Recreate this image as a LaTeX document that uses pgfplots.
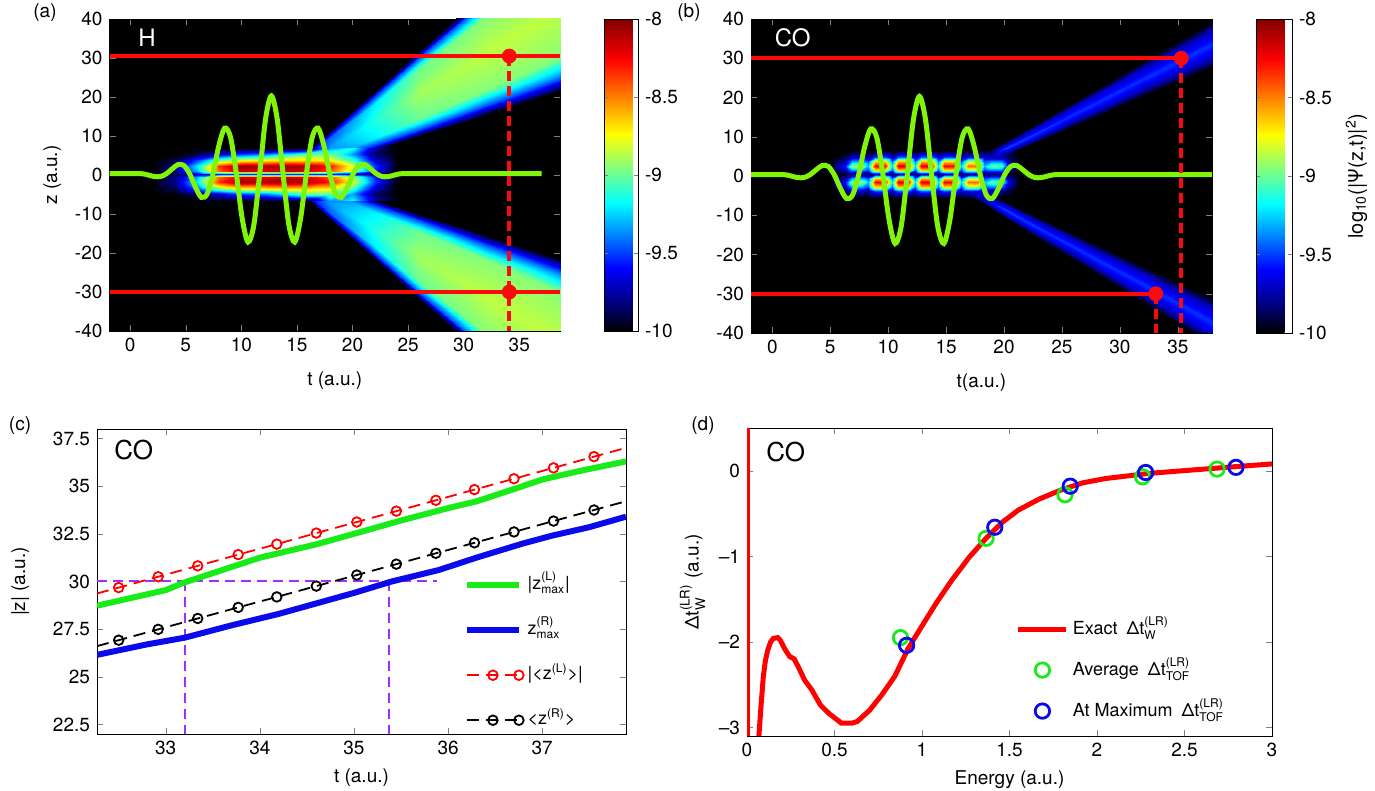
\documentclass[border=0pt]{standalone}
\usepackage{pgfplots}
\pgfplotsset{compat=1.18}
\usepackage{pgfplotstable}
\usepackage{amsmath}
\usepackage{fontspec}
\setmainfont{TeX Gyre Heros}

\definecolor{wavegreen}{RGB}{128,245,10}
\definecolor{cgreen}{RGB}{25,235,25}
\definecolor{cblue}{RGB}{10,10,235}
\definecolor{cpurple}{RGB}{155,48,255}
\definecolor{dred}{RGB}{250,10,10}

\newcommand{\fs}{\fontsize{9.5}{11}\selectfont}
\newcommand{\fl}{\fontsize{9}{11}\selectfont}

\pgfplotsset{
  colormap={blackjet}{rgb(0pt)=(0,0,0); rgb(10pt)=(0,0,0.55); rgb(20pt)=(0,0,1);
    rgb(41pt)=(0,1,1); rgb(52pt)=(0.5,1,0.5); rgb(63pt)=(1,1,0); rgb(87pt)=(1,0,0); rgb(100pt)=(0.5,0,0)},
  panel/.style={
    scale only axis, anchor=south west,
    tick label style={font=\fs},
    label style={font=\fs},
    /pgf/number format/assume math mode=true,
    tick align=inside, major tick length=3pt,
  },
  heat/.style={
    panel,
    axis background/.style={fill=black},
    colormap name=blackjet, point meta min=-10, point meta max=-8,
    ymin=-40, ymax=40, ytick={-40,-30,...,40}, xtick={0,5,...,35},
    colorbar,
  },
  cbar/.style={
    at={(parent axis.north east)}, anchor=north west, xshift=13.5pt,
    scale only axis, width=17pt, height=#1,
    ytick={-10,-9.5,-9,-8.5,-8},
    ytick pos=both, yticklabel pos=right,
    tick align=inside, major tick length=2pt,
    tick label style={font=\fs},
    label style={font=\fs},
    /pgf/number format/assume math mode=true,
  },
}

% laser field (green curve), same in (a) and (b)
\pgfplotstableread{
t z
-1.9 0.35
0.5 0.35
1.15 0.3
1.675 -0.05
2.2 -0.41
2.725 -0.4
3.25 0.3
3.775 1.57
4.3 2.67
4.825 2.46
5.35 0.3
5.875 -3.16
6.4 -5.72
6.925 -4.85
7.45 0.3
7.975 7.5
8.5 12.03
9.025 9.7
9.55 0.3
10.075 -11.18
10.6 -17.2
11.125 -12.82
11.65 0.3
12.175 14.32
12.7 20.3
13.225 14.32
13.75 0.3
14.275 -12.82
14.8 -17.2
15.325 -11.18
15.85 0.3
16.375 9.7
16.9 12.03
17.425 7.5
17.95 0.3
18.475 -4.85
19.0 -5.72
19.525 -3.16
20.05 0.3
20.575 2.46
21.1 2.67
21.625 1.57
22.15 0.3
22.675 -0.4
23.2 -0.41
23.725 -0.05
24.25 0.3
25 0.35
}\wave

% (a) upper beam, cross sections at fixed t
\pgfplotstableread{
t z c
14 -0.86 -10
14 -0.71 -9.85
14 -0.45 -9.75
14 0.17 -9.7
14 0.79 -9.75
14 1.05 -9.85
14 1.20 -10
18 2.78 -10
18 3.43 -9.7
18 4.50 -9.45
18 7.09 -9.35
18 9.68 -9.45
18 10.75 -9.7
18 11.40 -10
22 6.41 -10
22 7.55 -9.55
22 9.45 -9.2
22 14.0 -9.12
22 18.55 -9.2
22 20.45 -9.55
22 21.59 -10
26 10.03 -10
26 11.66 -9.48
26 14.38 -9.0
26 20.9 -8.9
26 27.42 -9.0
26 30.14 -9.48
26 31.77 -10
32 15.51 -10
32 17.88 -9.45
32 21.83 -8.95
32 31.3 -8.85
32 40.77 -8.95
32 44.72 -9.45
32 47.09 -10
40 22.75 -10
40 26.10 -9.45
40 31.69 -8.95
40 45.1 -8.85
40 58.51 -8.95
40 64.10 -9.45
40 67.45 -10
}\beamAu

\pgfplotstableread{
t z c
14 0.86 -10
14 0.71 -9.85
14 0.45 -9.75
14 -0.17 -9.7
14 -0.79 -9.75
14 -1.05 -9.85
14 -1.20 -10
18 -2.78 -10
18 -3.43 -9.7
18 -4.50 -9.45
18 -7.09 -9.35
18 -9.68 -9.45
18 -10.75 -9.7
18 -11.40 -10
22 -6.41 -10
22 -7.55 -9.55
22 -9.45 -9.2
22 -14.0 -9.12
22 -18.55 -9.2
22 -20.45 -9.55
22 -21.59 -10
26 -10.03 -10
26 -11.66 -9.48
26 -14.38 -9.0
26 -20.9 -8.9
26 -27.42 -9.0
26 -30.14 -9.48
26 -31.77 -10
32 -15.51 -10
32 -17.88 -9.45
32 -21.83 -8.95
32 -31.3 -8.85
32 -40.77 -8.95
32 -44.72 -9.45
32 -47.09 -10
40 -22.75 -10
40 -26.10 -9.45
40 -31.69 -8.95
40 -45.1 -8.85
40 -58.51 -8.95
40 -64.10 -9.45
40 -67.45 -10
}\beamAl

% (a) central wave packet, rows of constant z
\pgfplotstableread{
t z c
2 7.0 -10
4 7.0 -10
6 7.0 -10
8 7.0 -10
10 7.0 -10
12 7.0 -10
14 7.0 -10
16 7.0 -10
18 7.0 -9.35
20 7.0 -9.15
22 7.0 -9.75
24 7.0 -10
2 5.4 -10
4 5.4 -10
6 5.4 -9.9
8 5.4 -9.7
10 5.4 -9.5
12 5.4 -9.4
14 5.4 -9.2
16 5.4 -9.0
18 5.4 -9.0
20 5.4 -9.35
22 5.4 -9.85
24 5.4 -10
2 3.9 -10
4 3.9 -9.9
6 3.9 -9.5
8 3.9 -9.0
10 3.9 -8.8
12 3.9 -8.75
14 3.9 -8.7
16 3.9 -8.7
18 3.9 -8.75
20 3.9 -9.1
22 3.9 -9.7
24 3.9 -10
2 2.2 -10
4 2.2 -9.8
6 2.2 -9.2
8 2.2 -8.35
10 2.2 -8.05
12 2.2 -8.1
14 2.2 -8.05
16 2.2 -8.1
18 2.2 -8.3
20 2.2 -8.8
22 2.2 -9.5
24 2.2 -10
2 0.9 -10
4 0.9 -9.8
6 0.9 -9.3
8 0.9 -8.45
10 0.9 -8.15
12 0.9 -8.2
14 0.9 -8.15
16 0.9 -8.2
18 0.9 -8.4
20 0.9 -8.9
22 0.9 -9.55
24 0.9 -10
2 0.2 -10
4 0.2 -9.9
6 0.2 -9.7
8 0.2 -9.6
10 0.2 -9.55
12 0.2 -9.55
14 0.2 -9.55
16 0.2 -9.55
18 0.2 -9.6
20 0.2 -9.7
22 0.2 -9.85
24 0.2 -10
2 -0.5 -10
4 -0.5 -9.8
6 -0.5 -9.3
8 -0.5 -8.45
10 -0.5 -8.15
12 -0.5 -8.2
14 -0.5 -8.15
16 -0.5 -8.2
18 -0.5 -8.4
20 -0.5 -8.9
22 -0.5 -9.55
24 -0.5 -10
2 -1.8 -10
4 -1.8 -9.8
6 -1.8 -9.2
8 -1.8 -8.35
10 -1.8 -8.05
12 -1.8 -8.1
14 -1.8 -8.05
16 -1.8 -8.1
18 -1.8 -8.3
20 -1.8 -8.8
22 -1.8 -9.5
24 -1.8 -10
2 -3.5 -10
4 -3.5 -9.9
6 -3.5 -9.5
8 -3.5 -9.0
10 -3.5 -8.8
12 -3.5 -8.75
14 -3.5 -8.7
16 -3.5 -8.7
18 -3.5 -8.75
20 -3.5 -9.1
22 -3.5 -9.7
24 -3.5 -10
2 -5.0 -10
4 -5.0 -10
6 -5.0 -9.9
8 -5.0 -9.7
10 -5.0 -9.5
12 -5.0 -9.4
14 -5.0 -9.2
16 -5.0 -9.0
18 -5.0 -9.0
20 -5.0 -9.35
22 -5.0 -9.85
24 -5.0 -10
2 -6.6 -10
4 -6.6 -10
6 -6.6 -10
8 -6.6 -10
10 -6.6 -10
12 -6.6 -10
14 -6.6 -10
16 -6.6 -10
18 -6.6 -9.35
20 -6.6 -9.15
22 -6.6 -9.75
24 -6.6 -10
}\blobA

% (b) beams
\pgfplotstableread{
t z c
16 0.08 -10
16 0.48 -9.9
16 1.08 -9.8
16 1.68 -9.9
16 2.08 -10
20 5.3 -10
20 5.98 -9.72
20 7.0 -9.5
20 8.02 -9.72
20 8.7 -10
26 12.78 -10
26 14.02 -9.72
26 15.88 -9.52
26 17.74 -9.72
26 18.98 -10
32 20.26 -10
32 22.06 -9.72
32 24.76 -9.52
32 27.46 -9.72
32 29.26 -10
40 30.24 -10
40 32.78 -9.72
40 36.6 -9.52
40 40.42 -9.72
40 42.96 -10
}\beamBu

\pgfplotstableread{
t z c
16 -3.0 -10
16 -2.6 -9.9
16 -2.0 -9.8
16 -1.4 -9.9
16 -1.0 -10
20 -10.4 -10
20 -9.6 -9.72
20 -8.4 -9.5
20 -7.2 -9.72
20 -6.4 -10
26 -21.3 -10
26 -19.98 -9.72
26 -18.0 -9.52
26 -16.02 -9.72
26 -14.7 -10
32 -32.2 -10
32 -30.36 -9.72
32 -27.6 -9.52
32 -24.84 -9.72
32 -23.0 -10
40 -46.8 -10
40 -44.24 -9.72
40 -40.4 -9.52
40 -36.56 -9.72
40 -34.0 -10
}\beamBl

\begin{document}
\begin{tikzpicture}
\useasboundingbox (0,0) rectangle (687.5pt,395.5pt);

% ---------------- (a) H ----------------
\begin{axis}[heat, at={(54.75pt,230pt)}, width=225.25pt, height=156pt,
  xmin=-1.86, xmax=38.66,
  xlabel={t (a.u.)}, ylabel={z (a.u.)}, xlabel shift=3pt,
  colorbar style={cbar=156pt},
]
\addplot[surf, shader=interp, mesh/cols=7, point meta=explicit] table[x=t, y=z, meta=c] {\beamAu};
\addplot[surf, shader=interp, mesh/cols=7, point meta=explicit] table[x=t, y=z, meta=c] {\beamAl};
\addplot[surf, shader=interp, mesh/cols=12, point meta=explicit] table[x=t, y=z, meta=c] {\blobA};
\addplot[wavegreen, line width=2.5pt, smooth, tension=0.5] table[x=t, y=z] {\wave} -- (axis cs:37,0.35);
\addplot[dred, line width=2pt] coordinates {(-1.86,30.5) (38.66,30.5)};
\addplot[dred, line width=2pt] coordinates {(-1.86,-30) (38.66,-30)};
\addplot[dred, line width=2pt, dash pattern=on 5pt off 2.5pt] coordinates {(34.1,30.5) (34.1,-40)};
\addplot[dred, only marks, mark=*, mark size=3.5pt] coordinates {(34.1,30.5) (34.1,-30)};
\node[white, anchor=west, font=\fontsize{12}{14}\selectfont] at (axis cs:0.1,35.3) {H};
\end{axis}

% ---------------- (b) CO ----------------
\begin{axis}[heat, at={(375.5pt,229pt)}, width=230.5pt, height=157pt,
  xmin=-1.84, xmax=37.95,
  xlabel={t(a.u.)}, xlabel shift=3pt,
  colorbar style={cbar=157pt, width=18pt,
    ylabel={log$_{\text{10}}$(|Ψ(z,t)|$^{\text{2}}$)}, ylabel near ticks},
]
\addplot[surf, shader=interp, mesh/cols=5, point meta=explicit] table[x=t, y=z, meta=c] {\beamBu};
\addplot[surf, shader=interp, mesh/cols=5, point meta=explicit] table[x=t, y=z, meta=c] {\beamBl};
% central spots: rows of constant z (6.5, 4.8, 3.7, 2.6, 1.5, 0.5, -0.5, -1.6, -2.7, -3.8, -5.5)
\addplot[surf, shader=interp, mesh/cols=24, point meta=explicit] coordinates {
(5.3,6.5)[-10] (6.3,6.5)[-10] (6.85,6.5)[-10] (7.75,6.5)[-10] (8.3,6.5)[-10] (8.85,6.5)[-10] (9.75,6.5)[-10] (10.3,6.5)[-10] (10.85,6.5)[-10] (11.75,6.5)[-10] (12.3,6.5)[-10] (12.85,6.5)[-10] (13.75,6.5)[-10] (14.3,6.5)[-10] (14.85,6.5)[-10] (15.75,6.5)[-10] (16.3,6.5)[-10] (16.85,6.5)[-10] (17.75,6.5)[-10] (18.3,6.5)[-10] (18.85,6.5)[-9.9] (19.75,6.5)[-9.55] (20.3,6.5)[-9.7] (21.3,6.5)[-10]
(5.3,4.8)[-10] (6.3,4.8)[-9.9] (6.85,4.8)[-9.7] (7.75,4.8)[-9.7] (8.3,4.8)[-9.8] (8.85,4.8)[-9.5] (9.75,4.8)[-9.5] (10.3,4.8)[-9.75] (10.85,4.8)[-9.45] (11.75,4.8)[-9.45] (12.3,4.8)[-9.7] (12.85,4.8)[-9.45] (13.75,4.8)[-9.45] (14.3,4.8)[-9.7] (14.85,4.8)[-9.5] (15.75,4.8)[-9.5] (16.3,4.8)[-9.7] (16.85,4.8)[-9.6] (17.75,4.8)[-9.6] (18.3,4.8)[-9.7] (18.85,4.8)[-9.75] (19.75,4.8)[-9.8] (20.3,4.8)[-9.9] (21.3,4.8)[-10]
(5.3,3.7)[-9.9] (6.3,3.7)[-9.75] (6.85,3.7)[-9.35] (7.75,3.7)[-9.35] (8.3,3.7)[-9.5] (8.85,3.7)[-8.7] (9.75,3.7)[-8.7] (10.3,3.7)[-9.45] (10.85,3.7)[-8.65] (11.75,3.7)[-8.65] (12.3,3.7)[-9.45] (12.85,3.7)[-8.65] (13.75,3.7)[-8.65] (14.3,3.7)[-9.45] (14.85,3.7)[-8.7] (15.75,3.7)[-8.7] (16.3,3.7)[-9.5] (16.85,3.7)[-8.9] (17.75,3.7)[-8.9] (18.3,3.7)[-9.5] (18.85,3.7)[-9.4] (19.75,3.7)[-9.4] (20.3,3.7)[-9.75] (21.3,3.7)[-10]
(5.3,2.6)[-9.8] (6.3,2.6)[-9.6] (6.85,2.6)[-8.9] (7.75,2.6)[-8.9] (8.3,2.6)[-9.3] (8.85,2.6)[-8.25] (9.75,2.6)[-8.25] (10.3,2.6)[-9.2] (10.85,2.6)[-8.2] (11.75,2.6)[-8.2] (12.3,2.6)[-9.2] (12.85,2.6)[-8.2] (13.75,2.6)[-8.2] (14.3,2.6)[-9.2] (14.85,2.6)[-8.25] (15.75,2.6)[-8.25] (16.3,2.6)[-9.25] (16.85,2.6)[-8.45] (17.75,2.6)[-8.45] (18.3,2.6)[-9.3] (18.85,2.6)[-9.0] (19.75,2.6)[-9.0] (20.3,2.6)[-9.6] (21.3,2.6)[-10]
(5.3,1.5)[-9.9] (6.3,1.5)[-9.75] (6.85,1.5)[-9.35] (7.75,1.5)[-9.35] (8.3,1.5)[-9.5] (8.85,1.5)[-8.7] (9.75,1.5)[-8.7] (10.3,1.5)[-9.45] (10.85,1.5)[-8.65] (11.75,1.5)[-8.65] (12.3,1.5)[-9.45] (12.85,1.5)[-8.65] (13.75,1.5)[-8.65] (14.3,1.5)[-9.45] (14.85,1.5)[-8.7] (15.75,1.5)[-8.7] (16.3,1.5)[-9.5] (16.85,1.5)[-8.9] (17.75,1.5)[-8.9] (18.3,1.5)[-9.5] (18.85,1.5)[-9.4] (19.75,1.5)[-9.4] (20.3,1.5)[-9.75] (21.3,1.5)[-10]
(5.3,0.5)[-10] (6.3,0.5)[-9.95] (6.85,0.5)[-9.85] (7.75,0.5)[-9.85] (8.3,0.5)[-9.9] (8.85,0.5)[-9.75] (9.75,0.5)[-9.75] (10.3,0.5)[-9.9] (10.85,0.5)[-9.75] (11.75,0.5)[-9.75] (12.3,0.5)[-9.9] (12.85,0.5)[-9.75] (13.75,0.5)[-9.75] (14.3,0.5)[-9.9] (14.85,0.5)[-9.75] (15.75,0.5)[-9.75] (16.3,0.5)[-9.9] (16.85,0.5)[-9.8] (17.75,0.5)[-9.8] (18.3,0.5)[-9.9] (18.85,0.5)[-9.85] (19.75,0.5)[-9.85] (20.3,0.5)[-9.95] (21.3,0.5)[-10]
(5.3,-0.5)[-9.9] (6.3,-0.5)[-9.75] (6.85,-0.5)[-9.35] (7.75,-0.5)[-9.35] (8.3,-0.5)[-9.5] (8.85,-0.5)[-8.7] (9.75,-0.5)[-8.7] (10.3,-0.5)[-9.45] (10.85,-0.5)[-8.65] (11.75,-0.5)[-8.65] (12.3,-0.5)[-9.45] (12.85,-0.5)[-8.65] (13.75,-0.5)[-8.65] (14.3,-0.5)[-9.45] (14.85,-0.5)[-8.7] (15.75,-0.5)[-8.7] (16.3,-0.5)[-9.5] (16.85,-0.5)[-8.9] (17.75,-0.5)[-8.9] (18.3,-0.5)[-9.5] (18.85,-0.5)[-9.4] (19.75,-0.5)[-9.4] (20.3,-0.5)[-9.75] (21.3,-0.5)[-10]
(5.3,-1.6)[-9.8] (6.3,-1.6)[-9.6] (6.85,-1.6)[-8.9] (7.75,-1.6)[-8.9] (8.3,-1.6)[-9.3] (8.85,-1.6)[-8.25] (9.75,-1.6)[-8.25] (10.3,-1.6)[-9.2] (10.85,-1.6)[-8.2] (11.75,-1.6)[-8.2] (12.3,-1.6)[-9.2] (12.85,-1.6)[-8.2] (13.75,-1.6)[-8.2] (14.3,-1.6)[-9.2] (14.85,-1.6)[-8.25] (15.75,-1.6)[-8.25] (16.3,-1.6)[-9.25] (16.85,-1.6)[-8.45] (17.75,-1.6)[-8.45] (18.3,-1.6)[-9.3] (18.85,-1.6)[-9.0] (19.75,-1.6)[-9.0] (20.3,-1.6)[-9.6] (21.3,-1.6)[-10]
(5.3,-2.7)[-9.9] (6.3,-2.7)[-9.75] (6.85,-2.7)[-9.35] (7.75,-2.7)[-9.35] (8.3,-2.7)[-9.5] (8.85,-2.7)[-8.7] (9.75,-2.7)[-8.7] (10.3,-2.7)[-9.45] (10.85,-2.7)[-8.65] (11.75,-2.7)[-8.65] (12.3,-2.7)[-9.45] (12.85,-2.7)[-8.65] (13.75,-2.7)[-8.65] (14.3,-2.7)[-9.45] (14.85,-2.7)[-8.7] (15.75,-2.7)[-8.7] (16.3,-2.7)[-9.5] (16.85,-2.7)[-8.9] (17.75,-2.7)[-8.9] (18.3,-2.7)[-9.5] (18.85,-2.7)[-9.4] (19.75,-2.7)[-9.4] (20.3,-2.7)[-9.75] (21.3,-2.7)[-10]
(5.3,-3.8)[-10] (6.3,-3.8)[-9.9] (6.85,-3.8)[-9.7] (7.75,-3.8)[-9.7] (8.3,-3.8)[-9.8] (8.85,-3.8)[-9.5] (9.75,-3.8)[-9.5] (10.3,-3.8)[-9.75] (10.85,-3.8)[-9.45] (11.75,-3.8)[-9.45] (12.3,-3.8)[-9.7] (12.85,-3.8)[-9.45] (13.75,-3.8)[-9.45] (14.3,-3.8)[-9.7] (14.85,-3.8)[-9.5] (15.75,-3.8)[-9.5] (16.3,-3.8)[-9.7] (16.85,-3.8)[-9.6] (17.75,-3.8)[-9.6] (18.3,-3.8)[-9.7] (18.85,-3.8)[-9.75] (19.75,-3.8)[-9.8] (20.3,-3.8)[-9.9] (21.3,-3.8)[-10]
(5.3,-5.5)[-10] (6.3,-5.5)[-10] (6.85,-5.5)[-10] (7.75,-5.5)[-10] (8.3,-5.5)[-10] (8.85,-5.5)[-10] (9.75,-5.5)[-10] (10.3,-5.5)[-10] (10.85,-5.5)[-10] (11.75,-5.5)[-10] (12.3,-5.5)[-10] (12.85,-5.5)[-10] (13.75,-5.5)[-10] (14.3,-5.5)[-10] (14.85,-5.5)[-10] (15.75,-5.5)[-10] (16.3,-5.5)[-10] (16.85,-5.5)[-10] (17.75,-5.5)[-9.65] (18.3,-5.5)[-9.6] (18.85,-5.5)[-9.75] (19.75,-5.5)[-10] (20.3,-5.5)[-10] (21.3,-5.5)[-10]
};
\addplot[wavegreen, line width=2.5pt, smooth, tension=0.5] table[x=t, y=z] {\wave} -- (axis cs:37.95,0.35);
\addplot[dred, line width=2pt] coordinates {(-1.84,30) (35.3,30)};
\addplot[dred, line width=2pt] coordinates {(-1.84,-30) (33.1,-30)};
\addplot[dred, line width=2pt, dash pattern=on 5pt off 2.5pt] coordinates {(35.3,30) (35.3,-40)};
\addplot[dred, line width=2pt, dash pattern=on 5pt off 2.5pt] coordinates {(33.1,-30) (33.1,-40)};
\addplot[dred, only marks, mark=*, mark size=3.5pt] coordinates {(35.3,30) (33.1,-30)};
\node[white, anchor=west, font=\fontsize{12}{14}\selectfont] at (axis cs:-0.4,35.2) {CO};
\end{axis}

% ---------------- (c) ----------------
\begin{axis}[panel, at={(48.5pt,28.5pt)}, width=264.5pt, height=152.5pt,
  xmin=32.27, xmax=37.89, ymin=22, ymax=38,
  xtick={33,34,35,36,37}, ytick={22.5,25,27.5,30,32.5,35,37.5},
  xlabel={t (a.u.)}, ylabel={|z| (a.u.)}, ylabel shift=5pt,
  legend style={at={(axis cs:36.1,30.9)}, anchor=north west, draw=none, fill=none,
    font=\fl, row sep=6pt, nodes={text height=8.5pt, text depth=4pt}},
  legend cell align=left,
  legend image code/.code={\draw[mark repeat=2,mark phase=2,#1] plot coordinates {(0pt,0pt) (13pt,0pt) (26pt,0pt)};},
]
\addplot[cpurple, line width=1pt, dash pattern=on 5pt off 3pt, forget plot] coordinates {(32.27,30) (35.88,30)};
\addplot[cpurple, line width=1pt, dash pattern=on 5pt off 3pt, forget plot] coordinates {(33.2,30) (33.2,22)};
\addplot[cpurple, line width=1pt, dash pattern=on 5pt off 3pt, forget plot] coordinates {(35.37,30) (35.37,22)};
\addplot[cgreen, line width=3pt] coordinates {
  (32.27,28.73) (32.6,29.1) (33.0,29.55) (33.2,29.95) (33.6,30.6) (34.0,31.25) (34.3,31.6)
  (34.6,31.95) (35.0,32.5) (35.5,33.2) (36.0,33.85) (36.3,34.2) (36.7,34.85) (37.0,35.35)
  (37.4,35.8) (37.89,36.3)};
\addlegendentry{|z$^{\text{(L)}}_{\text{max}}$|}
\addplot[cblue, line width=3pt] coordinates {
  (32.27,26.15) (32.8,26.7) (33.2,27.05) (33.7,27.7) (34.2,28.3) (34.6,28.85) (35.0,29.4)
  (35.4,30.0) (35.9,30.6) (36.3,31.25) (36.8,32.0) (37.1,32.4) (37.5,32.85) (37.89,33.4)};
\addlegendentry{z$^{\text{(R)}}_{\text{max}}$}
\addplot[red, line width=0.9pt, dash pattern=on 6pt off 3.5pt, mark=o, mark size=2.4pt,
  mark options={solid}, mark indices={2,3,4,5,6,7,8,9,10,11,12,13,14}] coordinates {
  (32.27,29.37) (32.5,29.68) (32.92,30.25) (33.34,30.82) (33.77,31.41) (34.18,31.96) (34.6,32.54)
  (35.03,33.12) (35.45,33.69) (35.87,34.26) (36.28,34.82) (36.70,35.39) (37.12,35.96)
  (37.55,36.55) (37.89,37.01)};
\addlegendentry{|<z$^{\text{(L)}}$>|}
\addplot[black, line width=0.9pt, dash pattern=on 6pt off 3.5pt, mark=o, mark size=2.4pt,
  mark options={solid}, mark indices={2,3,4,5,6,7,8,9,10,11,12,13,14}] coordinates {
  (32.27,26.61) (32.5,26.92) (32.92,27.49) (33.34,28.06) (33.77,28.64) (34.18,29.19) (34.6,29.76)
  (35.03,30.34) (35.45,30.91) (35.87,31.48) (36.28,32.03) (36.70,32.60) (37.12,33.17)
  (37.55,33.75) (37.89,34.21)};
\addlegendentry{<z$^{\text{(R)}}$>}
\node[anchor=west, font=\fontsize{13}{15}\selectfont] at (axis cs:32.38,36.9) {CO};
\end{axis}

% ---------------- (d) ----------------
\begin{axis}[panel, at={(373.5pt,27.5pt)}, width=262.5pt, height=154pt,
  xmin=0, xmax=3, ymin=-3.1, ymax=0.5,
  xtick={0,0.5,1,1.5,2,2.5,3}, ytick={-3,-2,-1,0}, yticklabels={–3,–2,–1,0},
  xlabel={Energy (a.u.)}, ylabel={Δt$^{\text{(LR)}}_{\text{W}}$ (a.u.)},
  legend style={at={(axis cs:1.5,-1.6)}, anchor=north west, draw=none, fill=none,
    font=\fl, row sep=3.5pt, nodes={text height=9pt, text depth=4pt}},
  legend cell align=left,
  legend image code/.code={\draw[mark repeat=2,mark phase=2,#1] plot coordinates {(0pt,0pt) (12pt,0pt) (24pt,0pt)};},
]
\addplot[red, line width=2pt, forget plot] coordinates {(0.007,0.5) (0.007,-3.1)};
\addplot[red, line width=2.5pt] coordinates {
  (0.068,-3.1) (0.08,-2.75) (0.093,-2.41) (0.105,-2.22) (0.118,-2.1) (0.135,-2.0) (0.15,-1.96)
  (0.175,-1.95) (0.19,-1.98) (0.215,-2.08) (0.243,-2.17) (0.27,-2.2) (0.295,-2.3) (0.33,-2.45)
  (0.37,-2.56) (0.42,-2.74) (0.47,-2.84) (0.54,-2.95) (0.6,-2.95) (0.63,-2.93) (0.7,-2.8)
  (0.77,-2.62) (0.845,-2.4) (0.92,-2.08) (0.995,-1.83) (1.08,-1.55) (1.17,-1.28) (1.27,-1.01)
  (1.37,-0.78) (1.46,-0.6) (1.55,-0.46) (1.67,-0.33) (1.8,-0.22) (1.92,-0.14) (2.05,-0.09)
  (2.3,-0.03) (2.55,0.01) (2.8,0.05) (3.0,0.08)};
\addlegendentry{Exact\enspace Δt$^{\text{(LR)}}_{\text{W}}$}
\addplot[cgreen, only marks, mark=o, mark size=3.6pt, mark options={line width=1.4pt}] coordinates {
  (0.877,-1.95) (1.366,-0.79) (1.817,-0.28) (2.26,-0.07) (2.686,0.02)};
\addlegendentry{Average\enspace Δt$^{\text{(LR)}}_{\text{TOF}}$}
\addplot[cblue, only marks, mark=o, mark size=3.6pt, mark options={line width=1.4pt}] coordinates {
  (0.912,-2.04) (1.416,-0.66) (1.847,-0.18) (2.278,-0.02) (2.794,0.04)};
\addlegendentry{At Maximum\enspace Δt$^{\text{(LR)}}_{\text{TOF}}$}
\node[anchor=west, font=\fontsize{13}{15}\selectfont] at (axis cs:0.07,0.22) {CO};
\end{axis}

\node[font=\fs] at (22.5pt,389pt) {(a)};
\node[font=\fs] at (344.5pt,389pt) {(b)};
\node[font=\fs] at (10pt,182.5pt) {(c)};
\node[font=\fs] at (351.5pt,182.5pt) {(d)};
\end{tikzpicture}
\end{document}
